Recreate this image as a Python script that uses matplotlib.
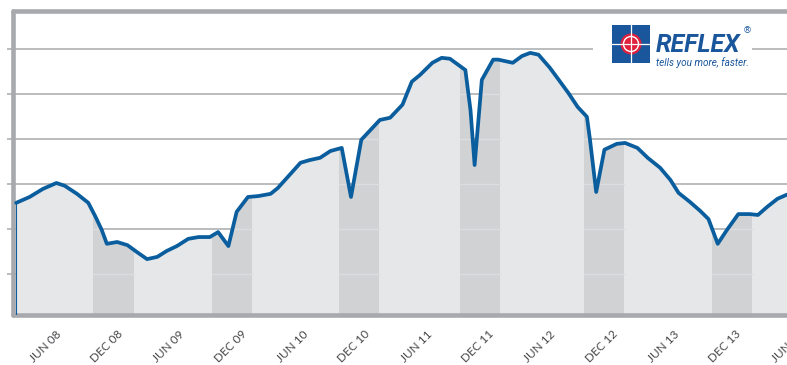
import matplotlib.pyplot as plt
from matplotlib.transforms import ScaledTranslation
from matplotlib.patches import Rectangle, Circle

# months counted from Jan 2008 (0 = Jan 08), values in grid units
months = [1.5, 2.8, 4.1, 5.4, 6.2, 7.4, 8.5, 9.2, 9.8, 10.3, 11.3, 12.3, 13.2, 14.2,
          15.2, 16.1, 17.1, 18.2, 19.2, 20.3, 21.1, 22.1, 22.9, 24.0, 25.0, 26.2,
          26.9, 29.1, 30.0, 31.0, 32.0, 33.1, 34.0, 35.0, 36.8, 37.8, 39.0, 39.9,
          40.7, 41.9, 42.8, 43.6, 45.1, 45.6, 46.0, 46.7, 47.8, 48.3, 49.7, 50.6,
          51.4, 52.2, 53.3, 54.3, 55.1, 56.0, 56.9, 57.2, 57.8, 58.6, 59.8, 60.6,
          61.8, 62.8, 64.0, 65.0, 65.8, 66.9, 67.9, 68.7, 69.6, 70.5, 71.6, 72.7,
          73.5, 74.4, 75.4, 76.3]
values = [2.58, 2.71, 2.89, 3.02, 2.96, 2.78, 2.58, 2.27, 1.98, 1.67, 1.71, 1.64, 1.49, 1.33,
          1.38, 1.51, 1.62, 1.78, 1.82, 1.82, 1.93, 1.62, 2.38, 2.71, 2.73, 2.78,
          2.91, 3.47, 3.53, 3.58, 3.73, 3.80, 2.71, 3.98, 4.42, 4.47, 4.76, 5.27,
          5.42, 5.69, 5.80, 5.78, 5.53, 4.64, 3.42, 5.31, 5.76, 5.76, 5.69, 5.84,
          5.91, 5.87, 5.58, 5.27, 5.02, 4.71, 4.49, 3.98, 2.82, 3.76, 3.89, 3.91,
          3.80, 3.58, 3.36, 3.09, 2.80, 2.60, 2.40, 2.22, 1.67, 1.98, 2.33, 2.33,
          2.31, 2.49, 2.67, 2.76]

# darker winter bands (start month, width in months)
band_starts = [9.0, 20.5, 32.85, 44.6, 56.6, 69.0]
band_width = 3.9

tick_months = [5, 11, 17, 23, 29, 35, 41, 47, 53, 59, 65, 71, 77]
tick_labels = ['JUN 08', 'DEC 08', 'JUN 09', 'DEC 09', 'JUN 10', 'DEC 10', 'JUN 11',
               'DEC 11', 'JUN 12', 'DEC 12', 'JUN 13', 'DEC 13', 'JUN 14']
grid_levels = [1, 2, 3, 4, 5, 6]

blue = '#0b5e9e'
border = '#a7a9ac'

fig = plt.figure(figsize=(7.87, 3.65), dpi=100)
ax = fig.add_axes([13 / 787, 50.5 / 365, 782 / 787, 303.5 / 365])
ax.set_xlim(1.19, 77.1)
ax.set_ylim(0.1, 6.84)

# area and darker bands clipped to it
area = ax.fill_between(months, values, 0, color='#e6e7e8', lw=0, zorder=1)
clip = area.get_paths()[0]
for s in band_starts:
    span = ax.axvspan(s, s + band_width, color='#d1d2d4', lw=0, zorder=1.1)
    span.set_clip_path(clip, ax.transData)
    for g in grid_levels:
        ln, = ax.plot([s, s + band_width], [g, g], color='#dcdde0', lw=1.0, zorder=1.2)
        ln.set_clip_path(clip, ax.transData)

ax.plot(months, values, color=blue, lw=2.7, solid_joinstyle='round', solid_capstyle='round', zorder=3)
ax.plot([months[0], months[0]], [0, values[0]], color=blue, lw=0.8, zorder=3)

ax.set_yticks(grid_levels)
ax.set_yticklabels([])
ax.yaxis.grid(True, color=border, lw=1.1)
ax.set_axisbelow(True)
ax.tick_params(axis='y', length=4.5, width=1.1, color=border, direction='out')

ax.set_xticks(tick_months)
ax.set_xticklabels(tick_labels, rotation=45, ha='right', va='center', rotation_mode='anchor',
                   fontsize=8.5, color='#47474a', family='Lato')
ax.tick_params(axis='x', length=0, pad=13)
for lab in ax.get_xticklabels():
    lab.set_transform(lab.get_transform() + ScaledTranslation(5 / 72, 0, fig.dpi_scale_trans))

for side in ['left', 'top', 'bottom']:
    ax.spines[side].set_color(border)
    ax.spines[side].set_linewidth(3.3)
    ax.spines[side].set_capstyle('round')
ax.spines['right'].set_visible(False)

# logo overlay in pixel coordinates
ov = fig.add_axes([0, 0, 1, 1], zorder=10)
ov.set_xlim(0, 787)
ov.set_ylim(365, 0)
ov.axis('off')
ov.add_patch(Rectangle((593, 30), 159, 38, color='white', lw=0))
ov.add_patch(Rectangle((612, 25), 38, 38, color='#1a569c', lw=0))
ov.add_patch(Circle((631, 44), 10.5, color='#e0203c', lw=0))
ov.add_patch(Circle((631, 44), 7.5, fill=False, ec='white', lw=1.0))
ov.plot([612, 650], [44, 44], color='white', lw=0.9)
ov.plot([631, 631], [25, 63], color='white', lw=0.9)
ov.text(656, 52, 'REFLEX', fontsize=18, fontweight='bold', style='italic', color='#1a569c',
        family=['Liberation Sans Narrow', 'Roboto', 'DejaVu Sans'], va='baseline', ha='left')
ov.text(743, 31, '®', fontsize=6.5, color='#1a569c', va='center', ha='left')
ov.text(656, 65.5, 'tells you more, faster.', fontsize=7.2, style='italic', color='#1a569c',
        family=['Roboto', 'DejaVu Sans'], va='baseline', ha='left')

fig.savefig('out.png', dpi=100)
